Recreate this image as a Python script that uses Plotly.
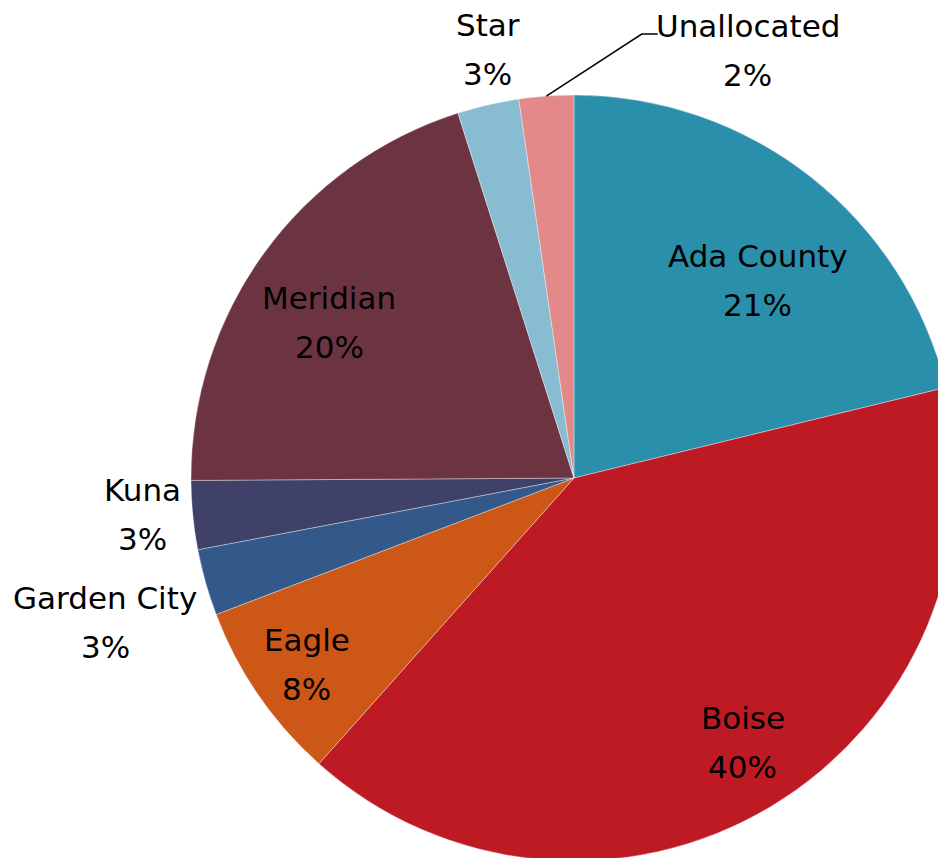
import math
import plotly.graph_objects as go

labels = ["Ada County", "Boise", "Eagle", "Garden City", "Kuna", "Meridian", "Star", "Unallocated"]
values = [21.2, 40.4, 7.6, 2.8, 2.9, 20.2, 2.6, 2.3]
colors = ["#2A8FAB", "#BE1A24", "#CD5716", "#33598A", "#3F4168", "#6C3441", "#88BDD1", "#E38989"]

# label layout (position of each label relative to its slice): radius factor, angle offset (deg)
label_radius = [0.705, 0.819, 0.851, 1.281, 1.13, 0.758, 1.14, 1.206]
label_dangle = [4.7, -1.6, -0.4, -1.3, 0.7, -3.5, 1.6, 0.0]

W, H = 960, 858
DOM_X = [0.1906, 0.9885]
DOM_Y = [0.0058, 0.8986]
FONT = dict(family="DejaVu Sans", size=31, color="black")
LINE_GAP = 49

fig = go.Figure(go.Pie(
    labels=labels,
    values=values,
    sort=False,
    direction="clockwise",
    rotation=0,
    marker=dict(colors=colors, line=dict(color="rgba(255,255,255,0.6)", width=0.6)),
    textinfo="none",
    showlegend=False,
    hoverinfo="label+percent",
    domain=dict(x=DOM_X, y=DOM_Y),
))

# pie geometry in pixels (as plotly lays it out from the domain)
dw = (DOM_X[1] - DOM_X[0]) * W
dh = (DOM_Y[1] - DOM_Y[0]) * H
R = min(dw, dh) / 2
cx = (DOM_X[0] + DOM_X[1]) / 2 * W
cy = (1 - (DOM_Y[0] + DOM_Y[1]) / 2) * H


def to_paper(px, py):
    return px / W, 1 - py / H


total = sum(values)
cum = 0.0
for i, (lab, v) in enumerate(zip(labels, values)):
    mid = 360.0 * (cum + v / 2) / total
    cum += v
    pct = f"{round(v / total * 100):.0f}%"
    if lab == "Unallocated":
        # label placed to the right with a leader line
        ang = math.radians(22.1)
        lx = cx + label_radius[i] * R * math.sin(ang)
        ly = cy - label_radius[i] * R * math.cos(ang)
        a = math.radians(mid)
        ex = cx + R * math.sin(a)
        ey = cy - R * math.cos(a)
        p0 = to_paper(ex, ey)
        p1 = to_paper(lx - 106, ly - 16)
        p2 = to_paper(lx - 90, ly - 16)
        fig.add_shape(type="path", xref="paper", yref="paper",
                      path=f"M {p0[0]},{p0[1]} L {p1[0]},{p1[1]} L {p2[0]},{p2[1]}",
                      line=dict(color="black", width=1.5))
    else:
        ang = math.radians(mid + label_dangle[i])
        lx = cx + label_radius[i] * R * math.sin(ang)
        ly = cy - label_radius[i] * R * math.cos(ang)
    for txt, off in ((lab, -LINE_GAP / 2), (pct, LINE_GAP / 2)):
        px, py = to_paper(lx, ly + off)
        fig.add_annotation(x=px, y=py, xref="paper", yref="paper", text=txt,
                           showarrow=False, font=FONT, xanchor="center", yanchor="middle")

fig.update_layout(
    width=W,
    height=H,
    margin=dict(l=0, r=0, t=0, b=0),
    paper_bgcolor="white",
    plot_bgcolor="white",
)

fig.write_html("out.html")
